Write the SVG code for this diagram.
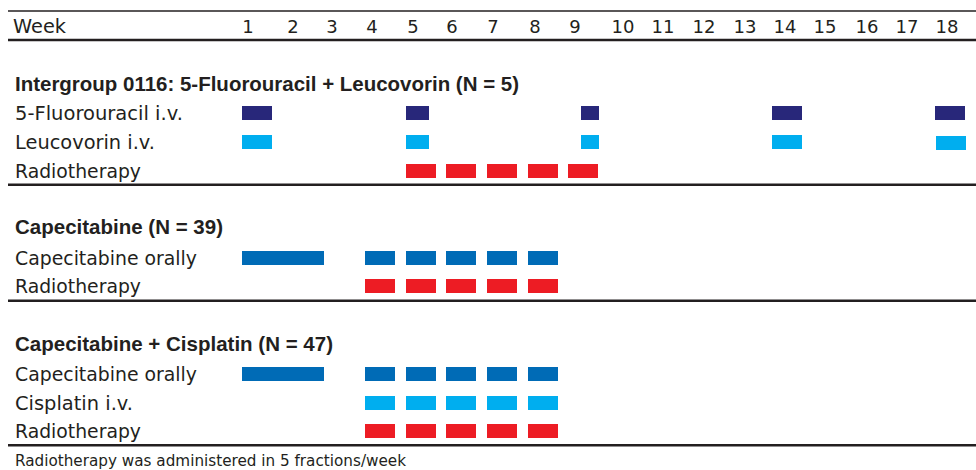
<svg xmlns="http://www.w3.org/2000/svg" width="976" height="470" viewBox="0 0 976 470">
<style>
.lbl{font-family:"DejaVu Sans","Liberation Sans",sans-serif;font-size:19px;fill:#231f20}
.num{font-family:"DejaVu Sans","Liberation Sans",sans-serif;font-size:18px;fill:#231f20;text-anchor:middle}
.hd{font-family:"Liberation Sans",Arial,sans-serif;font-size:20.5px;font-weight:bold;fill:#231f20}
.note{font-family:"DejaVu Sans","Liberation Sans",sans-serif;font-size:15.5px;fill:#231f20}
.rule{stroke:#231f20;stroke-width:2.5}
.thin{stroke:#231f20;stroke-width:1.5}
.fu{fill:#28277a}
.lv{fill:#00aeef}
.cap{fill:#006bb6}
.rt{fill:#ed1c24}
</style>
<rect width="976" height="470" fill="#ffffff"/>
<g id="rules">
<line class="thin" x1="8" y1="11" x2="976" y2="11"/>
<line class="rule" x1="8" y1="40" x2="976" y2="40"/>
<line class="rule" x1="8" y1="184.7" x2="976" y2="184.7"/>
<line class="rule" x1="8" y1="300.7" x2="976" y2="300.7"/>
<line class="rule" x1="8" y1="445.3" x2="976" y2="445.3"/>
</g>
<g id="header">
<text class="lbl" x="13" y="33" textLength="53" lengthAdjust="spacingAndGlyphs">Week</text>
<text class="num" x="248" y="33">1</text>
<text class="num" x="293" y="33">2</text>
<text class="num" x="332" y="33">3</text>
<text class="num" x="372" y="33">4</text>
<text class="num" x="413" y="33">5</text>
<text class="num" x="452" y="33">6</text>
<text class="num" x="493" y="33">7</text>
<text class="num" x="535" y="33">8</text>
<text class="num" x="575" y="33">9</text>
<text class="num" x="623" y="33">10</text>
<text class="num" x="663" y="33">11</text>
<text class="num" x="704" y="33">12</text>
<text class="num" x="745" y="33">13</text>
<text class="num" x="785" y="33">14</text>
<text class="num" x="825" y="33">15</text>
<text class="num" x="867" y="33">16</text>
<text class="num" x="907" y="33">17</text>
<text class="num" x="947" y="33">18</text>
</g>
<g id="group-intergroup">
<text class="hd" x="15" y="91" textLength="504" lengthAdjust="spacingAndGlyphs">Intergroup 0116: 5-Fluorouracil + Leucovorin (N = 5)</text>
<g id="ig-5fu">
<text class="lbl" x="15" y="120" textLength="168" lengthAdjust="spacingAndGlyphs">5-Fluorouracil i.v.</text>
<rect class="fu" x="242" y="106" width="30" height="14"/>
<rect class="fu" x="406" y="106" width="23" height="14"/>
<rect class="fu" x="581" y="106" width="18" height="14"/>
<rect class="fu" x="772" y="106" width="30" height="14"/>
<rect class="fu" x="935" y="106" width="30" height="14"/>
</g>
<g id="ig-leucovorin">
<text class="lbl" x="15" y="149" textLength="140" lengthAdjust="spacingAndGlyphs">Leucovorin i.v.</text>
<rect class="lv" x="242" y="135" width="30" height="14"/>
<rect class="lv" x="406" y="135" width="23" height="14"/>
<rect class="lv" x="581" y="135" width="18" height="14"/>
<rect class="lv" x="772" y="135" width="30" height="14"/>
<rect class="lv" x="936" y="136" width="30" height="14"/>
</g>
<g id="ig-radiotherapy">
<text class="lbl" x="15" y="178" textLength="126" lengthAdjust="spacingAndGlyphs">Radiotherapy</text>
<rect class="rt" x="406" y="164" width="30" height="14"/>
<rect class="rt" x="446" y="164" width="30" height="14"/>
<rect class="rt" x="487" y="164" width="30" height="14"/>
<rect class="rt" x="528" y="164" width="30" height="14"/>
<rect class="rt" x="568" y="164" width="30" height="14"/>
</g>
</g>
<g id="group-capecitabine">
<text class="hd" x="15" y="234" textLength="208" lengthAdjust="spacingAndGlyphs">Capecitabine (N = 39)</text>
<g id="c-cape">
<text class="lbl" x="15" y="265" textLength="182" lengthAdjust="spacingAndGlyphs">Capecitabine orally</text>
<rect class="cap" x="242" y="251" width="82" height="14"/>
<rect class="cap" x="365" y="251" width="30" height="14"/>
<rect class="cap" x="406" y="251" width="30" height="14"/>
<rect class="cap" x="446" y="251" width="30" height="14"/>
<rect class="cap" x="487" y="251" width="30" height="14"/>
<rect class="cap" x="528" y="251" width="30" height="14"/>
</g>
<g id="c-radiotherapy">
<text class="lbl" x="15" y="293" textLength="126" lengthAdjust="spacingAndGlyphs">Radiotherapy</text>
<rect class="rt" x="365" y="279" width="30" height="14"/>
<rect class="rt" x="406" y="279" width="30" height="14"/>
<rect class="rt" x="446" y="279" width="30" height="14"/>
<rect class="rt" x="487" y="279" width="30" height="14"/>
<rect class="rt" x="528" y="279" width="30" height="14"/>
</g>
</g>
<g id="group-cape-cis">
<text class="hd" x="15" y="351" textLength="318" lengthAdjust="spacingAndGlyphs">Capecitabine + Cisplatin (N = 47)</text>
<g id="cc-cape">
<text class="lbl" x="15" y="381" textLength="182" lengthAdjust="spacingAndGlyphs">Capecitabine orally</text>
<rect class="cap" x="242" y="367" width="82" height="14"/>
<rect class="cap" x="365" y="367" width="30" height="14"/>
<rect class="cap" x="406" y="367" width="30" height="14"/>
<rect class="cap" x="446" y="367" width="30" height="14"/>
<rect class="cap" x="487" y="367" width="30" height="14"/>
<rect class="cap" x="528" y="367" width="30" height="14"/>
</g>
<g id="cc-cisplatin">
<text class="lbl" x="15" y="410" textLength="118" lengthAdjust="spacingAndGlyphs">Cisplatin i.v.</text>
<rect class="lv" x="365" y="396" width="30" height="14"/>
<rect class="lv" x="406" y="396" width="30" height="14"/>
<rect class="lv" x="446" y="396" width="30" height="14"/>
<rect class="lv" x="487" y="396" width="30" height="14"/>
<rect class="lv" x="528" y="396" width="30" height="14"/>
</g>
<g id="cc-radiotherapy">
<text class="lbl" x="15" y="438" textLength="126" lengthAdjust="spacingAndGlyphs">Radiotherapy</text>
<rect class="rt" x="365" y="424" width="30" height="14"/>
<rect class="rt" x="406" y="424" width="30" height="14"/>
<rect class="rt" x="446" y="424" width="30" height="14"/>
<rect class="rt" x="487" y="424" width="30" height="14"/>
<rect class="rt" x="528" y="424" width="30" height="14"/>
</g>
</g>
<g id="footnote">
<text class="note" x="15" y="466" textLength="391" lengthAdjust="spacingAndGlyphs">Radiotherapy was administered in 5 fractions/week</text>
</g>
</svg>
